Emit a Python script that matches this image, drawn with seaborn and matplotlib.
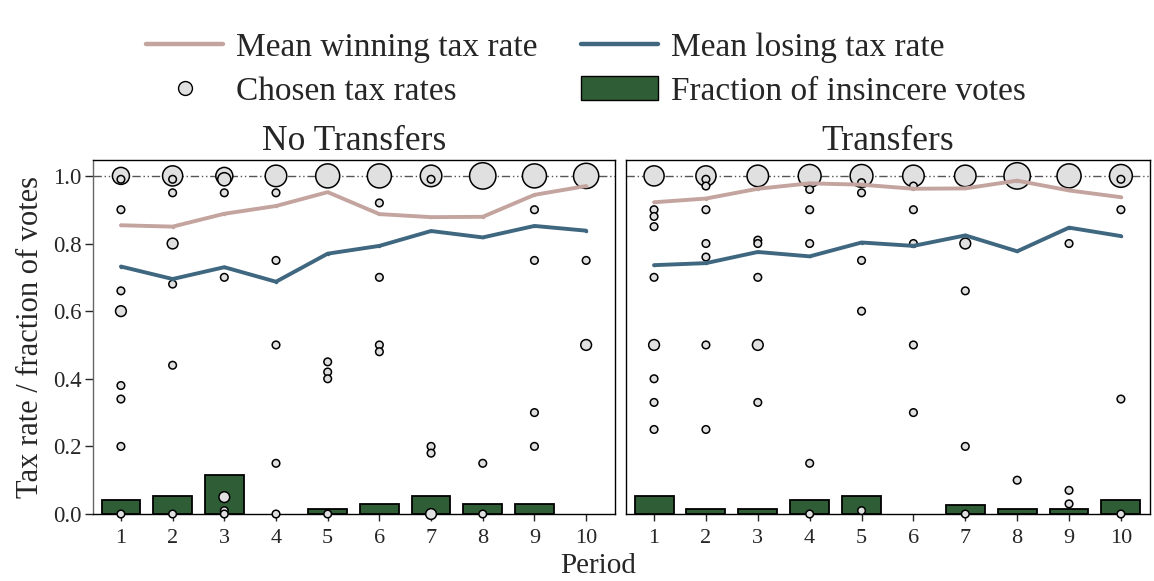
import pandas as pd
import numpy as np
import matplotlib
matplotlib.use("Agg")
import matplotlib.pyplot as plt
import seaborn as sns
from matplotlib.lines import Line2D
from matplotlib.patches import Patch

periods = list(range(1, 11))

# mean tax rates per period
win_nt = [0.854, 0.850, 0.888, 0.911, 0.952, 0.887, 0.878, 0.879, 0.944, 0.970]
lose_nt = [0.732, 0.695, 0.730, 0.687, 0.770, 0.793, 0.837, 0.818, 0.852, 0.838]
win_t = [0.922, 0.933, 0.962, 0.978, 0.974, 0.962, 0.963, 0.986, 0.957, 0.937]
lose_t = [0.736, 0.742, 0.775, 0.762, 0.803, 0.793, 0.824, 0.777, 0.847, 0.822]

# fraction of insincere votes
insinc_nt = [0.041, 0.053, 0.115, 0.0, 0.016, 0.029, 0.053, 0.029, 0.029, 0.0]
insinc_t = [0.053, 0.016, 0.016, 0.041, 0.053, 0.0, 0.028, 0.016, 0.016, 0.041]

# chosen tax rates: period, rate, count
pts_nt_period = [1, 1, 1, 1, 1, 1, 1, 1, 1,
                 2, 2, 2, 2, 2, 2, 2,
                 3, 3, 3, 3, 3, 3, 3,
                 4, 4, 4, 4, 4, 4,
                 5, 5, 5, 5, 5,
                 6, 6, 6, 6, 6,
                 7, 7, 7, 7, 7,
                 8, 8, 8,
                 9, 9, 9, 9, 9,
                 10, 10, 10]
pts_nt_rate = [1.0, 0.99, 0.90, 0.66, 0.60, 0.38, 0.34, 0.20, 0.0,
               1.0, 0.99, 0.95, 0.80, 0.68, 0.44, 0.0,
               1.0, 0.99, 0.95, 0.70, 0.05, 0.01, 0.0,
               1.0, 0.95, 0.75, 0.50, 0.15, 0.0,
               1.0, 0.45, 0.42, 0.40, 0.0,
               1.0, 0.92, 0.70, 0.50, 0.48,
               1.0, 0.99, 0.20, 0.18, 0.0,
               1.0, 0.15, 0.0,
               1.0, 0.90, 0.75, 0.30, 0.20,
               1.0, 0.75, 0.50]
pts_nt_count = [5, 1, 1, 1, 2, 1, 1, 1, 1,
                7, 1, 1, 2, 1, 1, 1,
                5, 3, 1, 1, 2, 1, 1,
                8, 1, 1, 1, 1, 1,
                10, 1, 1, 1, 1,
                10, 1, 1, 1, 1,
                8, 1, 1, 1, 2,
                12, 1, 1,
                10, 1, 1, 1, 1,
                11, 1, 2]

pts_t_period = [1, 1, 1, 1, 1, 1, 1, 1, 1,
                2, 2, 2, 2, 2, 2, 2, 2,
                3, 3, 3, 3, 3, 3,
                4, 4, 4, 4, 4, 4,
                5, 5, 5, 5, 5, 5,
                6, 6, 6, 6, 6, 6,
                7, 7, 7, 7, 7,
                8, 8,
                9, 9, 9, 9,
                10, 10, 10, 10, 10]
pts_t_rate = [1.0, 0.90, 0.88, 0.85, 0.70, 0.50, 0.40, 0.33, 0.25,
              1.0, 0.99, 0.97, 0.90, 0.80, 0.76, 0.50, 0.25,
              1.0, 0.81, 0.80, 0.70, 0.50, 0.33,
              1.0, 0.96, 0.90, 0.80, 0.15, 0.0,
              1.0, 0.98, 0.95, 0.75, 0.60, 0.01,
              1.0, 0.97, 0.90, 0.80, 0.50, 0.30,
              1.0, 0.80, 0.66, 0.20, 0.0,
              1.0, 0.10,
              1.0, 0.80, 0.07, 0.03,
              1.0, 0.99, 0.90, 0.34, 0.0]
pts_t_count = [7, 1, 1, 1, 1, 2, 1, 1, 1,
               7, 1, 1, 1, 1, 1, 1, 1,
               8, 1, 1, 1, 2, 1,
               9, 1, 1, 1, 1, 1,
               9, 1, 1, 1, 1, 1,
               8, 1, 1, 1, 1, 1,
               8, 2, 1, 1, 1,
               12, 1,
               10, 1, 1, 1,
               9, 1, 1, 1, 1]

c_win = "#c4a49e"
c_lose = "#3f6780"
c_bar = "#2f5e36"
c_pt = "#e0e0e0"

sns.set_style("white")
plt.rcParams["font.family"] = ["Liberation Serif", "DejaVu Serif"]

fig = plt.figure(figsize=(11.54, 5.81), dpi=100)
ax1 = fig.add_axes([0.0806, 0.1153, 0.4524, 0.6093])
ax2 = fig.add_axes([0.5425, 0.1153, 0.4540, 0.6093])


def draw_panel(ax, title, win, lose, insinc, pp, pr, pc):
    ax.axhline(1.0, color="#555555", lw=1.0, dashes=(6, 2, 1, 2, 1, 2), zorder=1)
    # skip empty bars so no flat outline is drawn
    bx = [p for p, v in zip(periods, insinc) if v > 0]
    bh = [v for v in insinc if v > 0]
    ax.bar(bx, bh, width=0.75, color=c_bar, edgecolor="black", lw=1.3, zorder=2)
    df = pd.DataFrame({"period": pp, "rate": pr, "count": pc})
    sns.scatterplot(data=df, x="period", y="rate", size="count", sizes=(30, 360),
                    size_norm=(1, 12), color=c_pt, edgecolor="black", linewidth=1.1,
                    legend=False, ax=ax, zorder=3, clip_on=False)
    sns.lineplot(x=periods, y=win, color=c_win, lw=2.8, marker="o", markersize=2.5,
                 markeredgewidth=0, ax=ax, zorder=4)
    sns.lineplot(x=periods, y=lose, color=c_lose, lw=2.8, marker="o", markersize=2.5,
                 markeredgewidth=0, ax=ax, zorder=4)
    ax.set_xlim(0.46, 10.56)
    ax.set_ylim(0, 1.047)
    ax.set_xticks(periods)
    ax.set_xlabel("")
    ax.set_ylabel("")
    ax.set_title(title, fontsize=25.5, pad=7)
    ax.tick_params(axis="x", labelsize=16, length=5, width=1, direction="out",
                   bottom=True, pad=6)
    for s in ax.spines.values():
        s.set_color("black")
        s.set_linewidth(1.0)


draw_panel(ax1, "No Transfers", win_nt, lose_nt, insinc_nt,
           pts_nt_period, pts_nt_rate, pts_nt_count)
draw_panel(ax2, "Transfers", win_t, lose_t, insinc_t,
           pts_t_period, pts_t_rate, pts_t_count)

ax1.set_yticks([0, 0.2, 0.4, 0.6, 0.8, 1.0])
ax1.set_yticklabels(["0.0", "0.2", "0.4", "0.6", "0.8", "1.0"])
ax1.tick_params(axis="y", labelsize=16.5, length=6, width=1, direction="out",
                left=True, pad=2)
ax1.spines["left"].set_color("#666666")
ax2.set_yticks([])
ax1.set_ylabel("Tax rate / fraction of votes", fontsize=22, labelpad=6)
fig.text(0.518, 0.003, "Period", fontsize=21, ha="center", va="bottom")

handles = [
    Line2D([], [], color=c_win, lw=3.2),
    Line2D([], [], marker="o", ls="", markerfacecolor=c_pt, markeredgecolor="black",
           markersize=10),
    Line2D([], [], color=c_lose, lw=3.2),
    Patch(facecolor=c_bar, edgecolor="black"),
]
labels = ["Mean winning tax rate", "Chosen tax rates",
          "Mean losing tax rate", "Fraction of insincere votes"]
fig.legend(handles, labels, ncol=2, loc="upper center", bbox_to_anchor=(0.508, 0.997),
           frameon=False, fontsize=24, handlelength=2.3, handleheight=0.75,
           columnspacing=1.3, labelspacing=0.4, handletextpad=0.4)

fig.savefig("out.png", dpi=100)
